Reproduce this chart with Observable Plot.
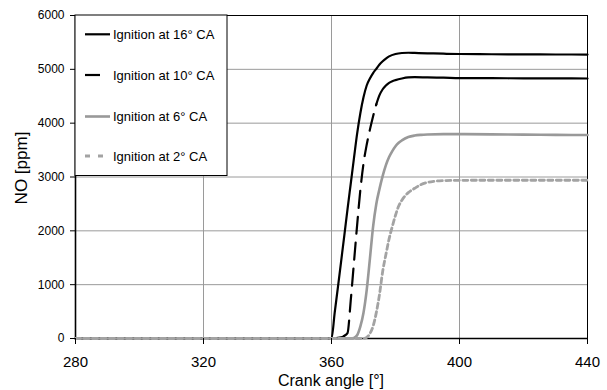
<!DOCTYPE html>
<html>
<head>
<meta charset="utf-8">
<script src="https://cdn.jsdelivr.net/npm/d3@7"></script>
<script src="https://cdn.jsdelivr.net/npm/@observablehq/plot@0.6"></script>
<style>
  body { margin: 0; background: #fff; }
  #chart { position: relative; width: 607px; height: 390px; }
</style>
</head>
<body>
<div id="chart"></div>
<script>
// ---- data ----
const seriesNames = ["Ignition at 16° CA", "Ignition at 10° CA", "Ignition at 6° CA", "Ignition at 2° CA"];

const angles16 = [280,360,361,362,363,364,365,366,367,368,369,370,371,372,373,374,375,376,377,378,380,382,384,386,390,395,400,410,420,430,440];
const no16     = [0,0,480,950,1430,1910,2400,2870,3340,3800,4180,4480,4700,4830,4930,5010,5090,5150,5200,5240,5285,5303,5308,5305,5298,5290,5285,5280,5278,5276,5275];

const angles10 = [280,360,363,364,365,366,367,368,369,370,371,372,373,374,375,376,377,378,379,380,382,384,386,390,395,400,410,420,430,440];
const no10     = [0,0,20,50,100,700,1400,2100,2750,3250,3600,3880,4130,4350,4520,4630,4700,4750,4780,4800,4830,4850,4855,4850,4845,4838,4835,4833,4831,4830];

const angles6 = [280,366,367,368,369,370,371,372,373,374,375,376,377,378,379,380,381,382,384,386,388,390,395,400,410,420,430,440];
const no6     = [0,0,10,60,220,480,900,1480,2080,2500,2780,3020,3220,3370,3480,3570,3635,3680,3742,3770,3783,3790,3797,3797,3792,3787,3783,3780];

const angles2 = [280,370,371,372,373,374,375,376,377,378,379,380,381,382,383,384,386,388,390,392,395,400,410,420,430,440];
const no2     = [0,0,20,90,230,480,820,1250,1560,1850,2080,2290,2460,2570,2650,2710,2790,2860,2900,2920,2932,2938,2940,2940,2940,2940];

const xTicks = [280, 320, 360, 400, 440];
const yTicks = [0, 1000, 2000, 3000, 4000, 5000, 6000];
const xTitle = "Crank angle [°]";
const yTitle = "NO [ppm]";

// ---- build tidy rows ----
const rows = (name, a, v) => a.map((x, i) => ({series: name, angle: x, no: v[i]}));
const d16 = rows(seriesNames[0], angles16, no16);
const d10 = rows(seriesNames[1], angles10, no10);
const d6  = rows(seriesNames[2], angles6, no6);
const d2  = rows(seriesNames[3], angles2, no2);

// Excel-like dash: dashed only on the steep rise of the 10° curve
const d10low  = d10.filter(d => d.angle <= 364);
const d10rise = d10.filter(d => d.angle >= 364 && d.angle <= 374);
const d10high = d10.filter(d => d.angle >= 374);

const styles = {
  [seriesNames[0]]: {stroke: "#000",    width: 2.2, dash: null,    legendDash: null},
  [seriesNames[1]]: {stroke: "#000",    width: 2.2, dash: "17,9",  legendDash: "15,10"},
  [seriesNames[2]]: {stroke: "#999",    width: 2.6, dash: null,    legendDash: null},
  [seriesNames[3]]: {stroke: "#a3a3a3", width: 2.8, dash: "5,3.5", legendDash: "5,8"}
};

const W = 607, H = 390;
const mL = 75, mR = 20, mT = 15, mB = 52;
const font = "Liberation Sans, Arial, sans-serif";

const lineOpts = (name, extra = {}) => ({
  x: "angle", y: "no",
  stroke: styles[name].stroke,
  strokeWidth: styles[name].width,
  curve: "monotone-x",
  ...extra
});

const chart = Plot.plot({
  width: W, height: H,
  marginLeft: mL, marginRight: mR, marginTop: mT, marginBottom: mB,
  style: {fontFamily: font, background: "#fff", color: "#000"},
  x: {domain: [xTicks[0], xTicks[xTicks.length - 1]]},
  y: {domain: [yTicks[0], yTicks[yTicks.length - 1]]},
  marks: [
    Plot.gridX(xTicks, {stroke: "#9a9a9a", strokeOpacity: 1, strokeWidth: 1}),
    Plot.gridY(yTicks, {stroke: "#9a9a9a", strokeOpacity: 1, strokeWidth: 1}),
    Plot.frame({stroke: "#000", strokeWidth: 1}),
    Plot.ruleX([xTicks[0]], {stroke: "#000", strokeWidth: 1.6}),
    Plot.ruleY([yTicks[0]], {stroke: "#000", strokeWidth: 1.6}),
    Plot.line(d16, lineOpts(seriesNames[0])),
    Plot.line(d10low, lineOpts(seriesNames[1])),
    Plot.line(d10rise, lineOpts(seriesNames[1], {strokeDasharray: styles[seriesNames[1]].dash})),
    Plot.line(d10high, lineOpts(seriesNames[1])),
    Plot.line(d6, lineOpts(seriesNames[2])),
    Plot.line(d2, lineOpts(seriesNames[3], {strokeDasharray: styles[seriesNames[3]].dash})),
    Plot.axisY(yTicks, {fontSize: 12, tickSize: 5, tickPadding: 6, tickFormat: d3.format("d"), label: null}),
    Plot.axisX(xTicks, {fontSize: 15, tickSize: 6, tickPadding: 12, label: null})
  ]
});

document.getElementById("chart").appendChild(chart);

// ---- axis titles & legend overlaid on the svg ----
const svg = d3.select(chart);

svg.append("text")
  .attr("x", mL + (W - mL - mR) / 2)
  .attr("y", 386)
  .attr("text-anchor", "middle")
  .attr("font-family", font)
  .attr("font-size", 16)
  .attr("fill", "#000")
  .text(xTitle);

svg.append("text")
  .attr("transform", `translate(21,168) rotate(-90)`)
  .attr("text-anchor", "middle")
  .attr("dominant-baseline", "central")
  .attr("font-family", font)
  .attr("font-size", 17)
  .attr("fill", "#000")
  .text(yTitle);

const lg = svg.append("g")
  .attr("font-family", font)
  .attr("font-size", 13)
  .attr("text-anchor", "start");
lg.append("rect")
  .attr("x", mL).attr("y", mT)
  .attr("width", 152).attr("height", 160.5)
  .attr("fill", "#fff").attr("stroke", "#000").attr("stroke-width", 1);

const rowY = [34.3, 75, 116.5, 156];
seriesNames.forEach((name, i) => {
  const s = styles[name];
  lg.append("line")
    .attr("x1", 85).attr("x2", 110)
    .attr("y1", rowY[i]).attr("y2", rowY[i])
    .attr("stroke", s.stroke)
    .attr("stroke-width", s.width)
    .attr("stroke-dasharray", s.legendDash);
  lg.append("text")
    .attr("x", 113).attr("y", rowY[i])
    .attr("text-anchor", "start")
    .attr("dominant-baseline", "central")
    .attr("fill", "#000")
    .text(name);
});
</script>
</body>
</html>
